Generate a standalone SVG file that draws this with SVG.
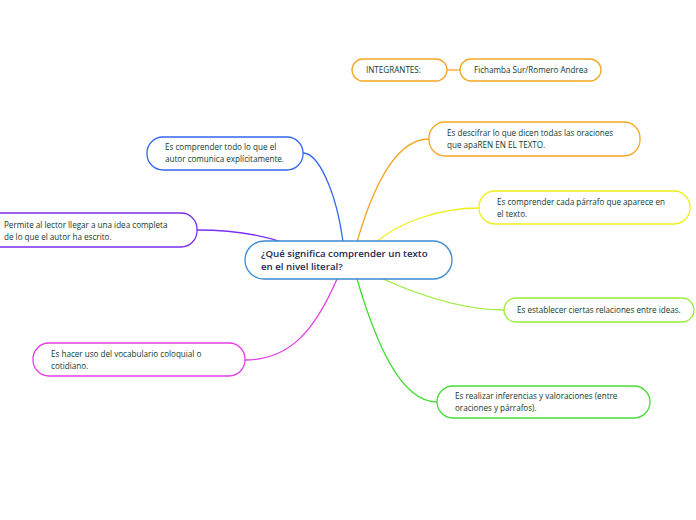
<svg xmlns="http://www.w3.org/2000/svg" width="696" height="520" viewBox="0 0 696 520">
<style>
.n{fill:#fff;stroke-width:1.3}
.t{font-family:"Open Sans","Noto Sans",sans-serif;font-size:8.1px;font-weight:500;fill:#0f3a2d}
.c{font-family:"Open Sans","Noto Sans",sans-serif;font-size:9.7px;font-weight:600;fill:#1a2a52}
.l{fill:none;stroke-width:1.3}
</style>
<rect width="696" height="520" fill="#fff"/>
<g id="connectors">
<path class="l" stroke="#f5a623" d="M447,70 L460,70"/>
<path class="l" stroke="#3466ee" d="M303,153 C318,153 336,190 343,242"/>
<path class="l" stroke="#7a2ff0" d="M197,230 C235,230 262,235 285,243"/>
<path class="l" stroke="#f5a623" d="M357,242 C372,190 395,139 429,139"/>
<path class="l" stroke="#eeee1a" d="M376,242 C400,222 440,208 479,208"/>
<path class="l" stroke="#9ced3a" d="M383,279 C430,300 470,310 504,310"/>
<path class="l" stroke="#44dd33" d="M357,279 C375,340 400,402 437,402"/>
<path class="l" stroke="#e53ce6" d="M337,279 C315,330 290,360 245,360"/>
</g>
<g id="integrantes">
<rect class="n" stroke="#f5a623" x="352" y="59" width="95" height="22" rx="11"/>
<text class="t" x="366" y="73">INTEGRANTES:</text>
</g>
<g id="fichamba">
<rect class="n" stroke="#f5a623" x="460" y="59" width="141" height="22" rx="11"/>
<text class="t" x="474" y="73">Fichamba Sur/Romero Andrea</text>
</g>
<g id="n1">
<rect class="n" stroke="#3466ee" x="147" y="137" width="156" height="33" rx="16"/>
<text class="t" x="165" y="150">Es comprender todo lo que el</text>
<text class="t" x="165" y="162">autor comunica explícitamente.</text>
</g>
<g id="n2">
<rect class="n" stroke="#7a2ff0" x="-20" y="213" width="217" height="34" rx="16"/>
<text class="t" x="4" y="228">Permite al lector llegar a una idea completa</text>
<text class="t" x="4" y="240">de lo que el autor ha escrito.</text>
</g>
<g id="central">
<rect class="n" stroke="#3a8bd2" x="245" y="241" width="207" height="38" rx="19"/>
<text class="c" x="261" y="257">¿Qué significa comprender un texto</text>
<text class="c" x="261" y="270">en el nivel literal?</text>
</g>
<g id="n3">
<rect class="n" stroke="#f5a623" x="429" y="122" width="211" height="34" rx="16"/>
<text class="t" x="447" y="136">Es descifrar lo que dicen todas las oraciones</text>
<text class="t" x="447" y="148">que apaREN EN EL TEXTO.</text>
</g>
<g id="n4">
<rect class="n" stroke="#eeee1a" x="479" y="191" width="211" height="33" rx="16"/>
<text class="t" x="497" y="205">Es comprender cada párrafo que aparece en</text>
<text class="t" x="497" y="217">el texto.</text>
</g>
<g id="n5">
<rect class="n" stroke="#9ced3a" x="504" y="298" width="190" height="24" rx="12"/>
<text class="t" x="517" y="313">Es establecer ciertas relaciones entre ideas.</text>
</g>
<g id="n6">
<rect class="n" stroke="#e53ce6" x="33" y="343" width="212" height="33" rx="16"/>
<text class="t" x="51" y="357">Es hacer uso del vocabulario coloquial o</text>
<text class="t" x="51" y="369">cotidiano.</text>
</g>
<g id="n7">
<rect class="n" stroke="#44dd33" x="437" y="386" width="213" height="32" rx="16"/>
<text class="t" x="455" y="399">Es realizar inferencias y valoraciones (entre</text>
<text class="t" x="455" y="411">oraciones y párrafos).</text>
</g>
</svg>
